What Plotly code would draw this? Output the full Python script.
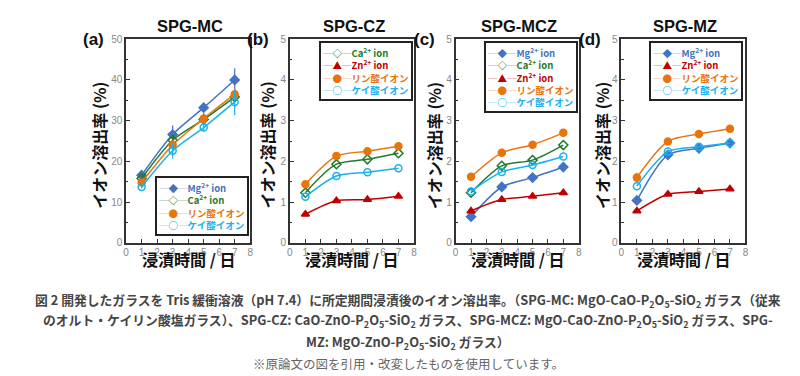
import plotly.graph_objects as go

days = [1, 3, 5, 7]

# Panel (a) SPG-MC
a_mg = [16.6, 26.6, 33.2, 40.0]
a_mg_err = [0.6, 2.2, 0.8, 2.9]
a_ca = [15.8, 25.2, 30.3, 35.8]
a_ca_err = [0.5, 0.8, 0.8, 1.2]
a_p = [14.8, 24.0, 30.5, 36.5]
a_p_err = [0.5, 1.2, 1.4, 1.6]
a_si = [13.7, 22.6, 28.3, 34.6]
a_si_err = [0.4, 1.9, 0.8, 3.2]

# Panel (b) SPG-CZ
b_ca = [1.23, 1.93, 2.05, 2.20]
b_zn = [0.70, 1.03, 1.06, 1.14]
b_p = [1.44, 2.13, 2.25, 2.37]
b_si = [1.13, 1.64, 1.73, 1.83]

# Panel (c) SPG-MCZ
c_mg = [0.64, 1.37, 1.60, 1.86]
c_mg_err = [0.04, 0.09, 0.06, 0.06]
c_ca = [1.23, 1.89, 2.03, 2.40]
c_zn = [0.78, 1.06, 1.14, 1.23]
c_p = [1.62, 2.21, 2.41, 2.70]
c_si = [1.26, 1.74, 1.91, 2.12]

# Panel (d) SPG-MZ
d_mg = [1.04, 2.16, 2.32, 2.45]
d_mg_err = [0.06, 0.04, 0.04, 0.03]
d_zn = [0.78, 1.19, 1.26, 1.32]
d_p = [1.60, 2.49, 2.67, 2.80]
d_p_err = [0.12, 0.05, 0.10, 0.05]
d_si = [1.39, 2.24, 2.36, 2.45]

panel_titles = ["SPG-MC", "SPG-CZ", "SPG-MCZ", "SPG-MZ"]
panel_letters = ["(a)", "(b)", "(c)", "(d)"]
x_ticks = [0, 1, 2, 3, 4, 5, 6, 7, 8]

C_MG = "#4472C4"
C_CA = "#1F7A2E"
C_ZN = "#C00000"
C_P = "#E8740C"
C_SI = "#1AB0EE"

NAME_MG = "Mg<sup>2+</sup> ion"
NAME_CA = "Ca<sup>2+</sup> ion"
NAME_ZN = "Zn<sup>2+</sup> ion"
NAME_P = "リン酸イオン"
NAME_SI = "ケイ酸イオン"

# name, colour, plotly marker symbol, legend glyph
STYLE = {
    "mg": (NAME_MG, C_MG, "diamond", "◆"),
    "ca": (NAME_CA, C_CA, "diamond-open", "◇"),
    "zn": (NAME_ZN, C_ZN, "triangle-up", "▲"),
    "p": (NAME_P, C_P, "circle", "●"),
    "si": (NAME_SI, C_SI, "circle-open", "○"),
}

panels = [
    [("mg", a_mg, a_mg_err), ("ca", a_ca, a_ca_err), ("p", a_p, a_p_err), ("si", a_si, a_si_err)],
    [("ca", b_ca, None), ("zn", b_zn, None), ("p", b_p, None), ("si", b_si, None)],
    [("mg", c_mg, c_mg_err), ("ca", c_ca, None), ("zn", c_zn, None), ("p", c_p, None), ("si", c_si, None)],
    [("mg", d_mg, d_mg_err), ("zn", d_zn, None), ("p", d_p, d_p_err), ("si", d_si, None)],
]

W, H = 800, 376
x_px = [(116, 241), (281, 406), (448, 572), (615, 740)]
y_px = (27, 236)
ydom = [(H - y_px[1]) / H, (H - y_px[0]) / H]

fig = go.Figure()

for i, series in enumerate(panels):
    xa = "x" if i == 0 else f"x{i+1}"
    ya = "y" if i == 0 else f"y{i+1}"
    for key, vals, err in series:
        name, col, sym, _ = STYLE[key]
        fig.add_trace(go.Scatter(
            x=days, y=vals, xaxis=xa, yaxis=ya,
            mode="lines+markers", name=name, showlegend=False,
            line=dict(color=col, width=1.5, shape="spline", smoothing=0.8),
            marker=dict(symbol=sym, size=7, color=col,
                        line=dict(color=col, width=1.5)),
            error_y=dict(type="data", array=err, visible=err is not None,
                         color=col, thickness=1.2, width=0),
        ))

layout = dict(width=W, height=H, margin=dict(l=0, r=0, t=0, b=0),
              plot_bgcolor="white", paper_bgcolor="white", showlegend=False,
              font=dict(family="Liberation Sans, Arial, sans-serif"))

for i in range(4):
    sfx = "" if i == 0 else str(i + 1)
    x0, x1 = x_px[i]
    layout[f"xaxis{sfx}"] = dict(
        domain=[x0 / W, x1 / W], range=[0, 8], tickvals=x_ticks,
        anchor=f"y{sfx}", showline=True, mirror=True, linecolor="#333333", linewidth=1.5,
        ticks="inside", ticklen=4, tickcolor="#333333", tickwidth=1,
        tickfont=dict(size=10, color="#888888"), showgrid=False, zeroline=False,
    )
    if i == 0:
        yr, dt, mdt = [0, 50], 10, 5
    else:
        yr, dt, mdt = [0, 5], 1, 0.5
    layout[f"yaxis{sfx}"] = dict(
        domain=ydom, range=yr, dtick=dt, anchor=f"x{sfx}",
        showline=True, mirror=True, linecolor="#333333", linewidth=1.5,
        ticks="inside", ticklen=4, tickcolor="#333333", tickwidth=1,
        minor=dict(ticks="inside", ticklen=2.5, dtick=mdt, tickcolor="#333333"),
        tickfont=dict(size=10, color="#888888"), showgrid=False, zeroline=False,
    )

fig.update_layout(**layout)

annotations = []
cj = "Noto Sans CJK JP"
ytitle_cx = [89, 258, 427, 596]
letter_rx = [96, 262, 429, 596]
for i in range(4):
    x0, x1 = x_px[i]
    annotations.append(dict(text=f"<b>{panel_titles[i]}</b>", x=((x0 + x1) / 2 + 2) / W, y=(H - 13) / H,
                            xref="paper", yref="paper", xanchor="center", yanchor="middle",
                            showarrow=False,
                            font=dict(size=16.5, color="#111111", family="Liberation Sans, Arial")))
    annotations.append(dict(text=f"<b>{panel_letters[i]}</b>", x=letter_rx[i] / W, y=(H - 27) / H,
                            xref="paper", yref="paper", xanchor="right", yanchor="middle",
                            showarrow=False,
                            font=dict(size=17, color="#111111", family="Liberation Sans, Arial")))
    annotations.append(dict(text="<b>イオン溶出率 (%)</b>", x=ytitle_cx[i] / W, y=(H - 136) / H,
                            xref="paper", yref="paper", xanchor="center", yanchor="middle",
                            textangle=-90, showarrow=False,
                            font=dict(size=16, color="#111111", family=cj)))
    annotations.append(dict(text="<b>浸漬時間 / 日</b>", x=(x0 + x1) / 2 / W, y=(H - 253) / H,
                            xref="paper", yref="paper", xanchor="center", yanchor="middle",
                            showarrow=False,
                            font=dict(size=16, color="#111111", family=cj)))

# compact legends (one per panel) as bordered text boxes
legend_pos = [(240, 229, "bottom"), (405, 29, "top"), (571, 29, "top"), (738, 29, "top")]
for i, series in enumerate(panels):
    rows = []
    for key, _, _ in series:
        name, col, _, glyph = STYLE[key]
        rows.append(f"<span style='color:{col}'><b>─{glyph}─{name}</b></span>")
    lx, ly, anc = legend_pos[i]
    annotations.append(dict(text="<br>".join(rows), x=lx / W, y=(H - ly) / H,
                            xref="paper", yref="paper", xanchor="right", yanchor=anc,
                            align="left", showarrow=False, bgcolor="white",
                            bordercolor="#222222", borderwidth=2, borderpad=2,
                            font=dict(size=9.5, family=cj)))

sub = "P<sub>2</sub>O<sub>5</sub>-SiO<sub>2</sub>"
caption_lines = [
    f"図 2 開発したガラスを Tris 緩衝溶液（pH 7.4）に所定期間浸漬後のイオン溶出率。（SPG-MC: MgO-CaO-{sub} ガラス（従来",
    f"のオルト・ケイリン酸塩ガラス）、SPG-CZ: CaO-ZnO-{sub} ガラス、SPG-MCZ: MgO-CaO-ZnO-{sub} ガラス、SPG-",
    f"MZ: MgO-ZnO-{sub} ガラス）",
]
cap_y = [295, 316, 338]
for t, yy in zip(caption_lines, cap_y):
    annotations.append(dict(text=f"<b>{t}</b>", x=0.5, y=(H - yy) / H, xref="paper", yref="paper",
                            xanchor="center", yanchor="middle", showarrow=False,
                            font=dict(size=12.8, color="#444444", family=cj)))
annotations.append(dict(text="※原論文の図を引用・改変したものを使用しています。", x=0.5, y=(H - 360) / H,
                        xref="paper", yref="paper", xanchor="center", yanchor="middle", showarrow=False,
                        font=dict(size=12.5, color="#666666", family=cj)))

fig.update_layout(annotations=annotations)
fig.write_html("out.html")
